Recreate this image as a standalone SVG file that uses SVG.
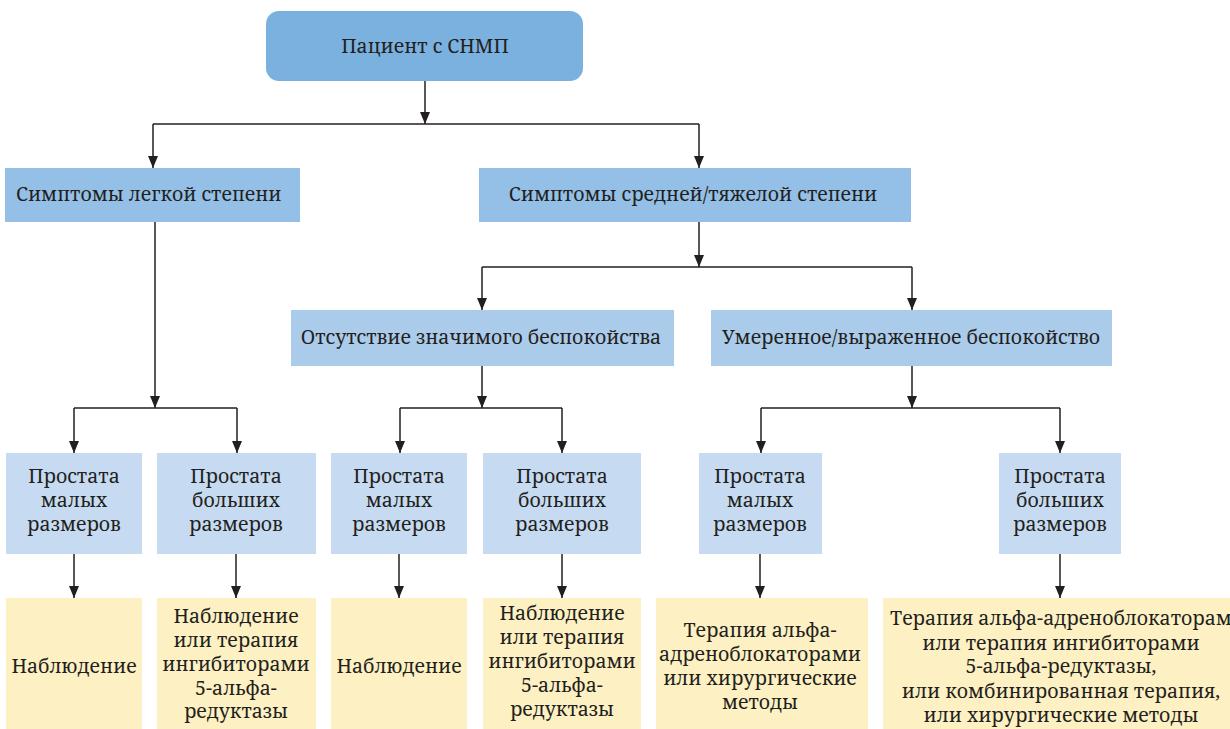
<svg xmlns="http://www.w3.org/2000/svg" width="1230" height="729" viewBox="0 0 1230 729">
<style>
text{font-family:'Noto Serif','DejaVu Serif',serif;font-size:19.5px;fill:#231f20}
.c{text-anchor:middle}
.l1{fill:#94bfe6}
.l2{fill:#abcbea}
.l3{fill:#c6dbf1}
.y{fill:#fdf0c2}
.ln{fill:none;stroke:#231f20;stroke-width:1.5}
.ar{marker-end:url(#arr)}
</style>
<defs>
<marker id="arr" viewBox="0 0 12 10" refX="12" refY="5" markerWidth="12" markerHeight="10" markerUnits="userSpaceOnUse" orient="auto">
<path d="M0,0 L12,5 L0,10 z" fill="#231f20"/>
</marker>
</defs>
<rect width="1230" height="729" fill="#ffffff"/>
<g id="connectors">
<path class="ln ar" d="M425,81 V124"/>
<path class="ln" d="M153,124 H699"/>
<path class="ln ar" d="M153,124 V168"/>
<path class="ln ar" d="M699,124 V168"/>
<path class="ln ar" d="M155,222 V408"/>
<path class="ln" d="M74,408 H237"/>
<path class="ln ar" d="M74,408 V453"/>
<path class="ln ar" d="M237,408 V453"/>
<path class="ln ar" d="M699,222 V267"/>
<path class="ln" d="M482,267 H912"/>
<path class="ln ar" d="M482,267 V310"/>
<path class="ln ar" d="M912,267 V310"/>
<path class="ln ar" d="M482,366 V408"/>
<path class="ln" d="M400,408 H562"/>
<path class="ln ar" d="M400,408 V453"/>
<path class="ln ar" d="M562,408 V453"/>
<path class="ln ar" d="M912,366 V408"/>
<path class="ln" d="M761,408 H1060"/>
<path class="ln ar" d="M761,408 V453"/>
<path class="ln ar" d="M1060,408 V453"/>
<path class="ln ar" d="M74,554 V598"/>
<path class="ln ar" d="M236,554 V598"/>
<path class="ln ar" d="M399,554 V598"/>
<path class="ln ar" d="M562,554 V598"/>
<path class="ln ar" d="M760,554 V598"/>
<path class="ln ar" d="M1060,554 V598"/>
</g>
<g id="n-patient">
<rect x="266" y="11" width="317" height="70" rx="13" fill="#7bb1df"/>
<text class="c" x="425" y="53">Пациент с СНМП</text>
</g>
<g id="n-mild">
<rect class="l1" x="5" y="168" width="295" height="54"/>
<text x="16" y="201">Симптомы легкой степени</text>
</g>
<g id="n-severe">
<rect class="l1" x="479" y="168" width="432" height="54"/>
<text class="c" x="693" y="201">Симптомы средней/тяжелой степени</text>
</g>
<g id="n-nobother">
<rect class="l2" x="291" y="310" width="383" height="56"/>
<text class="c" x="481" y="344">Отсутствие значимого беспокойства</text>
</g>
<g id="n-bother">
<rect class="l2" x="711" y="310" width="401" height="56"/>
<text class="c" x="911" y="344">Умеренное/выраженное беспокойство</text>
</g>
<g id="n-p1">
<rect class="l3" x="6" y="453" width="136" height="101"/>
<text class="c" x="74" y="483">Простата</text>
<text class="c" x="74" y="507">малых</text>
<text class="c" x="74" y="531">размеров</text>
</g>
<g id="n-p2">
<rect class="l3" x="157" y="453" width="159" height="101"/>
<text class="c" x="236" y="483">Простата</text>
<text class="c" x="236" y="507">больших</text>
<text class="c" x="236" y="531">размеров</text>
</g>
<g id="n-p3">
<rect class="l3" x="331" y="453" width="136" height="101"/>
<text class="c" x="399" y="483">Простата</text>
<text class="c" x="399" y="507">малых</text>
<text class="c" x="399" y="531">размеров</text>
</g>
<g id="n-p4">
<rect class="l3" x="483" y="453" width="158" height="101"/>
<text class="c" x="562" y="483">Простата</text>
<text class="c" x="562" y="507">больших</text>
<text class="c" x="562" y="531">размеров</text>
</g>
<g id="n-p5">
<rect class="l3" x="699" y="453" width="123" height="101"/>
<text class="c" x="760" y="483">Простата</text>
<text class="c" x="760" y="507">малых</text>
<text class="c" x="760" y="531">размеров</text>
</g>
<g id="n-p6">
<rect class="l3" x="999" y="453" width="122" height="101"/>
<text class="c" x="1060" y="483">Простата</text>
<text class="c" x="1060" y="507">больших</text>
<text class="c" x="1060" y="531">размеров</text>
</g>
<g id="n-t1">
<rect class="y" x="6" y="598" width="136" height="131"/>
<text class="c" x="74" y="673">Наблюдение</text>
</g>
<g id="n-t2">
<rect class="y" x="157" y="598" width="159" height="131"/>
<text class="c" x="236" y="623">Наблюдение</text>
<text class="c" x="236" y="647">или терапия</text>
<text class="c" x="236" y="671">ингибиторами</text>
<text class="c" x="236" y="695">5-альфа-</text>
<text class="c" x="236" y="718">редуктазы</text>
</g>
<g id="n-t3">
<rect class="y" x="331" y="598" width="136" height="131"/>
<text class="c" x="399" y="673">Наблюдение</text>
</g>
<g id="n-t4">
<rect class="y" x="483" y="598" width="158" height="131"/>
<text class="c" x="562" y="620">Наблюдение</text>
<text class="c" x="562" y="644">или терапия</text>
<text class="c" x="562" y="668">ингибиторами</text>
<text class="c" x="562" y="692">5-альфа-</text>
<text class="c" x="562" y="716">редуктазы</text>
</g>
<g id="n-t5">
<rect class="y" x="656" y="598" width="212" height="131"/>
<text class="c" x="760" y="637">Терапия альфа-</text>
<text class="c" x="760" y="661">адреноблокаторами</text>
<text class="c" x="760" y="685">или хирургические</text>
<text class="c" x="760" y="709">методы</text>
</g>
<g id="n-t6">
<rect class="y" x="883" y="598" width="347" height="131"/>
<text x="890" y="625">Терапия альфа-адреноблокаторами,</text>
<text class="c" x="1061" y="650">или терапия ингибиторами</text>
<text class="c" x="1061" y="673">5-альфа-редуктазы,</text>
<text class="c" x="1061" y="698">или комбинированная терапия,</text>
<text class="c" x="1061" y="722">или хирургические методы</text>
</g>
</svg>
